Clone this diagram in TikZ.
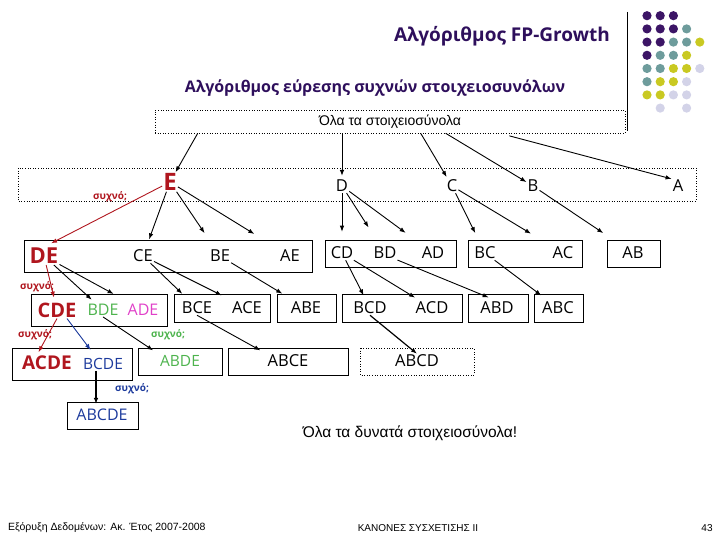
\documentclass[tikz,border=0pt]{standalone}
\usepackage{fontspec}
\setmainfont{Liberation Sans}
\newfontfamily\comicfont{Open Sans}
\usetikzlibrary{arrows.meta,positioning}

\definecolor{titlepurple}{HTML}{2E0F5C}
\definecolor{dotP}{HTML}{3C1566}
\definecolor{dotT}{HTML}{6E9C9C}
\definecolor{dotY}{HTML}{C9C922}
\definecolor{dotL}{HTML}{D3D3E8}
\definecolor{freqred}{HTML}{B0161E}
\definecolor{freqgreen}{HTML}{4DB34D}
\definecolor{freqpink}{HTML}{E040C8}
\definecolor{freqblue}{HTML}{1C3A9C}

\tikzset{
  item/.style={font=\comicfont\fontsize{16.5}{16.5}\selectfont, inner sep=1pt},
  coloritem/.style={font=\comicfont\fontsize{#1}{#1}\selectfont, inner sep=1pt},
  bigitem/.style={font=\comicfont\bfseries\fontsize{#1}{#1}\selectfont, inner sep=1pt},
  arr/.style={-{Latex[length=6pt,width=4.5pt]}, line width=0.9pt},
  frame/.style={draw, line width=0.6pt},
  dotframe/.style={draw, dotted, line width=0.6pt},
  freqlabel/.style={font=\comicfont\bfseries\fontsize{10}{10}\selectfont, inner sep=0pt},
  plaintext/.style={font=\fontsize{#1}{#1}\selectfont, inner sep=0pt},
}

\begin{document}
\begin{tikzpicture}[x=1pt,y=-1pt]
  \useasboundingbox (0,0) rectangle (720,540);

  % titles and corner decoration
  \node[bigitem=19, text=titlepurple, anchor=east] (title) at (611,36) {Αλγόριθμος FP-Growth};
  \node[bigitem=16, text=titlepurple] (subtitle) at (375,88) {Αλγόριθμος εύρεσης συχνών στοιχειοσυνόλων};
  \draw[line width=0.8pt] (627,12) -- (627,131);
  \foreach \r/\row in {0/{dotP,dotP,dotP}, 1/{dotP,dotP,dotP,dotT},
      2/{dotP,dotP,dotT,dotT,dotY}, 3/{dotP,dotT,dotT,dotY},
      4/{dotT,dotT,dotY,dotY,dotL}, 5/{dotT,dotY,dotY,dotL},
      6/{dotY,dotY,dotL,dotL}} {
    \foreach \col [count=\k from 0] in \row {
      \fill[\col] (647+13.2*\k, 15.7+13.2*\r) circle (4.6);
    }
  }
  \fill[dotL] (660.2,108.1) circle (4.6);
  \fill[dotL] (686.6,108.1) circle (4.6);

  % top: all itemsets
  \node[dotframe, minimum width=470pt, minimum height=23pt, plaintext=14] (all) at (390,121.5) {Όλα τα στοιχειοσύνολα};

  % frames
  \draw[dotframe] (18,168) rectangle (696,201);
  \draw[frame] (24,240) rectangle (312,272);
  \draw[frame] (325,240) rectangle (456,267);
  \draw[frame] (468,240) rectangle (582,267);
  \draw[frame] (607,240) rectangle (660,267);
  \draw[frame] (31,294) rectangle (167,326);
  \draw[frame] (174,294) rectangle (270,322);
  \draw[frame] (277,294) rectangle (336,322);
  \draw[frame] (342,294) rectangle (462,322);
  \draw[frame] (468,294) rectangle (528,322);
  \draw[frame] (534,294) rectangle (583,322);
  \draw[frame] (12,348) rectangle (132,380);
  \draw[frame] (138,348) rectangle (222,375);
  \draw[frame] (228,348) rectangle (348,375);
  \draw[dotframe] (360,348) rectangle (474,375);
  \draw[frame] (67,402) rectangle (138,429);

  % 1-itemsets
  \node[bigitem=24, text=freqred] (E) at (170,182) {E};
  \node[item] (D) at (342,186) {D};
  \node[item] (C) at (452,186) {C};
  \node[item] (B) at (533,186) {B};
  \node[item] (A) at (678,186) {A};

  % 2-itemsets
  \node[bigitem=22, text=freqred] (DE) at (44,256) {DE};
  \node[item] (CE) at (143,256) {CE};
  \node[item] (BE) at (220,256) {BE};
  \node[item] (AE) at (290,256) {AE};
  \node[item] (CD) at (342,253) {CD};
  \node[item] (BD) at (385,253) {BD};
  \node[item] (AD) at (433,253) {AD};
  \node[item] (BC) at (485,253) {BC};
  \node[item] (AC) at (563,253) {AC};
  \node[item] (AB) at (633,253) {AB};

  % 3-itemsets
  \node[bigitem=20, text=freqred] (CDE) at (57,310) {CDE};
  \node[coloritem=16, text=freqgreen] (BDE) at (103,310) {BDE};
  \node[coloritem=16, text=freqpink] (ADE) at (143,310) {ADE};
  \node[item] (BCE) at (197,308) {BCE};
  \node[item] (ACE) at (247,308) {ACE};
  \node[item] (ABE) at (306,308) {ABE};
  \node[item] (BCD) at (370,308) {BCD};
  \node[item] (ACD) at (432,308) {ACD};
  \node[item] (ABD) at (497,308) {ABD};
  \node[item] (ABC) at (558,308) {ABC};

  % 4- and 5-itemsets
  \node[bigitem=19, text=freqred] (ACDE) at (47,363) {ACDE};
  \node[coloritem=15.5, text=freqblue] (BCDE) at (103,364) {BCDE};
  \node[coloritem=15.5, text=freqgreen] (ABDE) at (180,361) {ABDE};
  \node[item] (ABCE) at (288,361) {ABCE};
  \node[item] (ABCD) at (417,361) {ABCD};
  \node[coloritem=16, text=freqblue] (ABCDE) at (102,415) {ABCDE};

  % "frequent" labels
  \node[freqlabel, text=freqred] (f1) at (110,197) {συχνό;};
  \node[freqlabel, text=freqred] (f2) at (37,287) {συχνό;};
  \node[freqlabel, text=freqred] (f3) at (35,335) {συχνό;};
  \node[freqlabel, text=freqgreen] (f4) at (168,335) {συχνό;};
  \node[freqlabel, text=freqblue] (f5) at (132,389) {συχνό;};

  % arrows from the top box
  \draw[arr] ([xshift=43pt]all.south west) -- (E);
  \draw[arr, shorten >=3pt] (all.south -| D) -- (D);
  \draw[arr, shorten >=2pt] ([xshift=266pt]all.south west) -- (C);
  \draw[arr] ([xshift=291pt]all.south west) -- (B);
  \draw[arr, shorten <=10pt] ([xshift=345pt]all.south west) -- (A.north west);

  % arrows to 2-itemsets
  \draw[arr, freqred, shorten >=8pt] (E) -- (DE.north);
  \draw[arr, shorten >=10pt] (E) -- (CE);
  \draw[arr, shorten >=19pt] (E) -- (BE);
  \draw[arr, shorten >=29pt] (E) -- (AE);
  \draw[arr, shorten >=14pt] (D) -- (CD);
  \draw[arr, shorten >=22pt] (D) -- (BD);
  \draw[arr, shorten >=22pt] (D) -- (AD);
  \draw[arr, shorten >=14pt] (C) -- (BC);
  \draw[arr, shorten >=24pt] (C) -- (AC);
  \draw[arr, shorten >=23pt] (B) -- (AB);

  % arrows to 3-itemsets
  \draw[arr, freqred, shorten >=4pt] (DE) -- (CDE);
  \draw[arr, shorten >=5pt] (DE) -- (BDE);
  \draw[arr, shorten >=19pt] (DE) -- (ADE);
  \draw[arr, shorten >=10pt] (CE) -- (BCE);
  \draw[arr, shorten >=12pt] (CE) -- (ACE);
  \draw[arr, shorten >=14pt] (BE) -- (ABE);
  \draw[arr, shorten >=6pt] (CD) -- (BCD);
  \draw[arr, shorten >=6pt] (CD) -- (ACD);
  \draw[arr, shorten >=9pt] (BD.south east) -- (ABD.north);
  \draw[arr, shorten >=9pt] (BC) -- (ABC);

  % arrows to 4- and 5-itemsets
  \draw[arr, freqred, shorten >=3pt] (CDE.south) -- ([xshift=-10pt]ACDE.north);
  \draw[arr, freqblue, shorten >=9pt] ([xshift=10pt]CDE.south) -- ([xshift=-7pt]BCDE.north);
  \draw[arr, shorten >=7pt] (BDE.south) -- (ABDE.north west);
  \draw[arr, shorten >=7pt] (BCE.south) -- (ABCE.north west);
  \draw[arr, line width=1.2pt] (BCD.south) -- (ABCD.north);
  \draw[arr, line width=1.1pt, shorten >=4pt] ([xshift=-7pt]BCDE.south) -- ([xshift=-7pt]BCDE.south |- ABCDE.north);

  % bottom texts
  \node[plaintext=15.5] (possible) at (410,433) {Όλα τα δυνατά στοιχειοσύνολα!};
  \node[plaintext=10.5, anchor=west] (course) at (8,528) {Εξόρυξη Δεδομένων: Ακ. Έτος 2007-2008};
  \node[plaintext=10] (chapter) at (418,528) {ΚΑΝΟΝΕΣ ΣΥΣΧΕΤΙΣΗΣ ΙΙ};
  \node[plaintext=10] (page) at (707,528) {43};
\end{tikzpicture}
\end{document}
